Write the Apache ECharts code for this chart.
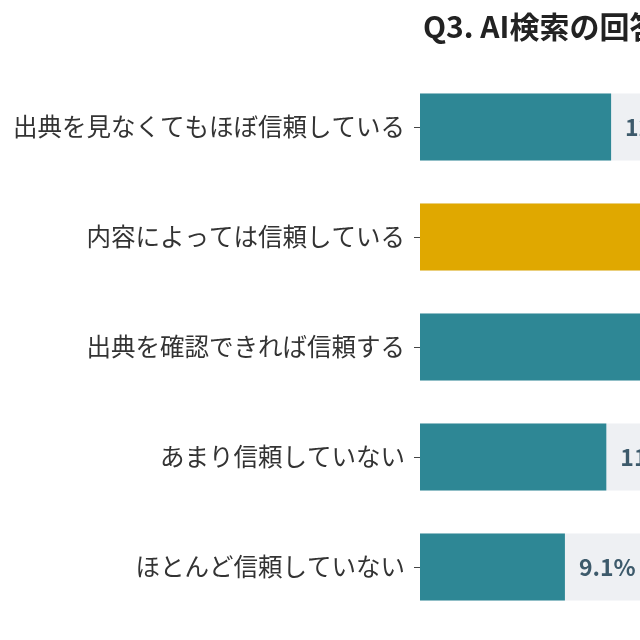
<!DOCTYPE html>
<html><head><meta charset="utf-8">
<script src="https://cdn.jsdelivr.net/npm/echarts@6/dist/echarts.min.js"></script>
<style>html,body{margin:0;padding:0;overflow:hidden;background:#fff;width:640px;height:640px}#c{width:1100px;height:640px}</style>
</head><body><div id="c"></div>
<script>
const titleText = 'Q3. AI検索の回答をどの程度信頼していますか？';
const categories = ['出典を見なくてもほぼ信頼している','内容によっては信頼している','出典を確認できれば信頼する','あまり信頼していない','ほとんど信頼していない'];
const values = [12.0, 38.5, 28.7, 11.7, 9.1];
const highlightIndex = 1;
const colorMain = '#2e8795', colorHi = '#e0a800';
const font = 'Noto Sans CJK JP';
const chart = echarts.init(document.getElementById('c'));
chart.setOption({
  animation:false,
  title:{text:titleText,left:418,top:7,textStyle:{fontFamily:font,fontSize:30,fontWeight:'bold',color:'#222'}},
  grid:{left:420,right:43,top:72,bottom:18},
  xAxis:{type:'value',min:0,max:40,show:false},
  yAxis:{type:'category',data:categories,inverse:true,
    axisLine:{show:false},
    axisTick:{show:true,length:6,lineStyle:{color:'#444'},alignWithLabel:true},
    axisLabel:{margin:15,fontSize:24.5,fontFamily:font,color:'#333'}},
  series:[{type:'bar',barWidth:67,
    data:values.map((v,i)=>({value:v,itemStyle:{color:i===highlightIndex?colorHi:colorMain}})),
    showBackground:true,backgroundStyle:{color:'#eef0f3'},
    label:{show:true,position:'right',distance:14,formatter:p=>p.value.toFixed(1)+'%',
      fontFamily:font,fontSize:23,fontWeight:'bold',color:'#3d5a6b'}}]
});
</script></body></html>
